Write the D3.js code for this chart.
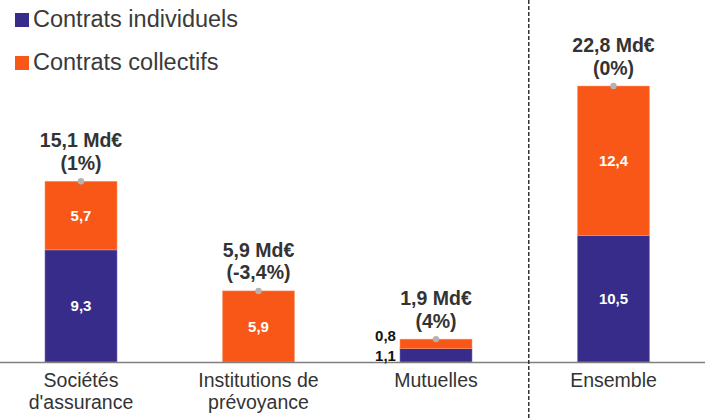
<!DOCTYPE html>
<html>
<head>
<meta charset="utf-8">
<script src="https://cdn.jsdelivr.net/npm/d3@7"></script>
<style>
  body { margin: 0; background: #fff; }
  svg { display: block; font-family: "Liberation Sans", Arial, sans-serif; }
</style>
</head>
<body>
<svg id="chart" width="709" height="418"></svg>
<script>
// data
const categories = ['Sociétés d\'assurance', 'Institutions de prévoyance', 'Mutuelles', 'Ensemble'];
const categoryLines = [['Sociétés', 'd\'assurance'], ['Institutions de', 'prévoyance'], ['Mutuelles'], ['Ensemble']];
const individuels = [9.3, 0, 1.1, 10.5];
const collectifs = [5.7, 5.9, 0.8, 12.4];
const totalLabels = ['15,1 Md€', '5,9 Md€', '1,9 Md€', '22,8 Md€'];
const evolutionLabels = ['(1%)', '(-3,4%)', '(4%)', '(0%)'];
const seriesNames = ['Contrats individuels', 'Contrats collectifs'];
const colors = ['#382c8b', '#f85718'];

const width = 709, height = 418;
const baseline = 362;
const fmt = v => String(v).replace('.', ',');

const svg = d3.select('#chart');

const x = d3.scaleBand()
  .domain(categories)
  .range([-7.75, 702.25])
  .paddingInner(0.594)
  .paddingOuter(0.297);

const y = d3.scaleLinear()
  .domain([0, 22.9])
  .range([baseline, 86]);

const rows = categories.map((c, i) => ({
  cat: c, i, ind: individuels[i], col: collectifs[i]
}));

// stacked bars
const g = svg.append('g').attr('class', 'bars');

g.selectAll('rect.ind').data(rows.filter(d => d.ind > 0))
  .enter().append('rect')
  .attr('class', 'ind')
  .attr('x', d => x(d.cat))
  .attr('width', x.bandwidth())
  .attr('y', d => y(d.ind))
  .attr('height', d => y(0) - y(d.ind))
  .attr('fill', colors[0])
  .attr('stroke', '#8a84c0')
  .attr('stroke-width', 0.5);

g.selectAll('rect.col').data(rows)
  .enter().append('rect')
  .attr('class', 'col')
  .attr('x', d => x(d.cat))
  .attr('width', x.bandwidth())
  .attr('y', d => y(d.ind + d.col))
  .attr('height', d => y(d.ind) - y(d.ind + d.col))
  .attr('fill', colors[1])
  .attr('stroke', '#fba57f')
  .attr('stroke-width', 0.5);

// axis line
svg.append('line')
  .attr('x1', 0).attr('x2', 705)
  .attr('y1', baseline + 0.5).attr('y2', baseline + 0.5)
  .attr('stroke', '#7f7f7f')
  .attr('stroke-width', 1.5);

// dashed separator before "Ensemble"
const sepX = (x('Mutuelles') + x.bandwidth() + x('Ensemble')) / 2 + 4;
svg.append('line')
  .attr('x1', sepX).attr('x2', sepX)
  .attr('y1', 0).attr('y2', height)
  .attr('stroke', '#333')
  .attr('stroke-width', 1.5)
  .attr('stroke-dasharray', '4,2');

// values inside the bars (large enough segments)
const inner = svg.append('g')
  .attr('font-weight', 'bold')
  .attr('font-size', '15px')
  .attr('fill', '#fff')
  .attr('text-anchor', 'middle');

rows.filter(d => d.ind >= 2).forEach(d => {
  inner.append('text')
    .attr('x', x(d.cat) + x.bandwidth() / 2)
    .attr('y', (y(0) + y(d.ind)) / 2)
    .attr('dy', '0.35em')
    .text(fmt(d.ind));
});
rows.filter(d => d.col >= 2).forEach(d => {
  inner.append('text')
    .attr('x', x(d.cat) + x.bandwidth() / 2)
    .attr('y', (y(d.ind) + y(d.ind + d.col)) / 2)
    .attr('dy', '0.35em')
    .text(fmt(d.col));
});

// small segments labelled on the left
const outer = svg.append('g')
  .attr('font-weight', 'bold')
  .attr('font-size', '15px')
  .attr('fill', '#111')
  .attr('text-anchor', 'end');

rows.filter(d => d.ind > 0 && d.ind < 2).forEach(d => {
  const yInd = (y(0) + y(d.ind)) / 2 + 6;
  outer.append('text')
    .attr('x', x(d.cat) - 4)
    .attr('y', yInd)
    .text(fmt(d.ind));
  outer.append('text')
    .attr('x', x(d.cat) - 4)
    .attr('y', yInd - 20)
    .text(fmt(d.col));
});

// total markers and labels above the bars
svg.selectAll('circle.top').data(rows)
  .enter().append('circle')
  .attr('class', 'top')
  .attr('cx', d => x(d.cat) + x.bandwidth() / 2)
  .attr('cy', d => y(d.ind + d.col))
  .attr('r', 3.2)
  .attr('fill', '#b3b3b3');

const tops = svg.append('g')
  .attr('font-weight', 'bold')
  .attr('font-size', '19.5px')
  .attr('fill', '#333')
  .attr('text-anchor', 'middle');

rows.forEach(d => {
  const cx = x(d.cat) + x.bandwidth() / 2;
  const top = y(d.ind + d.col);
  tops.append('text').attr('x', cx).attr('y', top - 34).text(totalLabels[d.i]);
  tops.append('text').attr('x', cx).attr('y', top - 11.5).text(evolutionLabels[d.i]);
});

// category labels
const xl = svg.append('g')
  .attr('font-size', '19.5px')
  .attr('fill', '#333')
  .attr('text-anchor', 'middle');

rows.forEach(d => {
  const t = xl.append('text')
    .attr('x', x(d.cat) + x.bandwidth() / 2)
    .attr('y', baseline + 25)
    .attr('textLength', null);
  categoryLines[d.i].forEach((line, k) => {
    t.append('tspan')
      .attr('x', x(d.cat) + x.bandwidth() / 2)
      .attr('dy', k === 0 ? 0 : 22)
      .text(line);
  });
});

// legend
const legend = svg.append('g');
seriesNames.forEach((name, i) => {
  const ly = 27 + i * 43;
  legend.append('rect')
    .attr('x', 15).attr('y', ly - 14)
    .attr('width', 14).attr('height', 14)
    .attr('fill', colors[i]);
  legend.append('text')
    .attr('x', 33).attr('y', ly)
    .attr('font-size', '23.5px')
    .attr('fill', '#3a3a3a')
    .text(name);
});
</script>
</body>
</html>
